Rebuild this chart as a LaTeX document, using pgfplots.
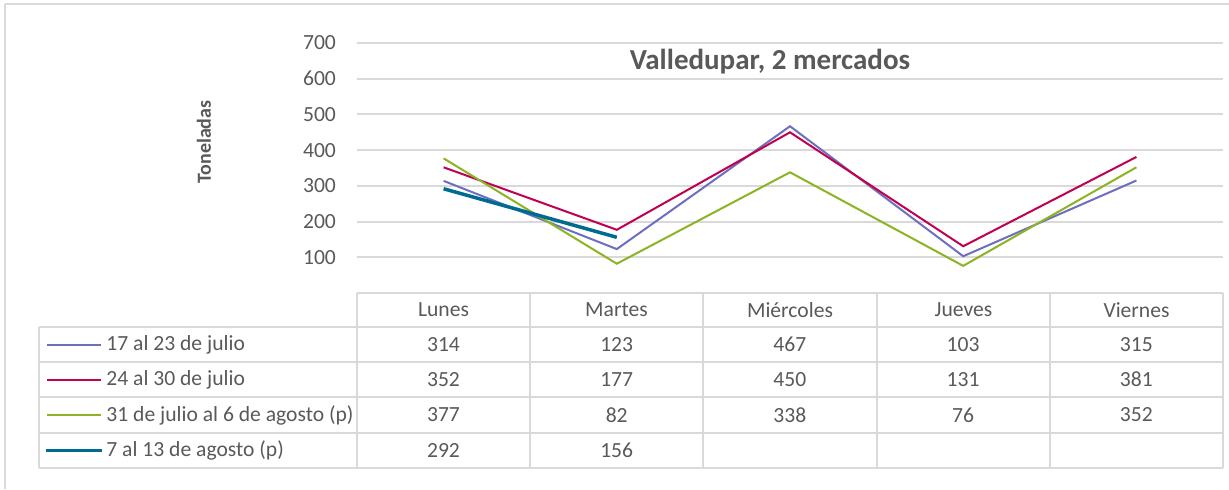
\documentclass[border=0pt]{standalone}
\usepackage{pgfplots}
\pgfplotsset{compat=1.18}
\usepackage{fontspec}
\setmainfont{Carlito}
\definecolor{sA}{HTML}{6E6EC0}
\definecolor{sB}{HTML}{C00050}
\definecolor{sC}{HTML}{8CB422}
\definecolor{sD}{HTML}{006B91}
\definecolor{txt}{HTML}{595959}
\definecolor{grd}{HTML}{D9D9D9}
\begin{document}
\begin{tikzpicture}
\path[use as bounding box] (0,0) rectangle (614.5pt,-244.5pt);
\begin{axis}[at={(178.5pt,-146.5pt)}, anchor=south west, scale only axis,
  width=433pt, height=125pt, xmin=-0.5, xmax=4.5, ymin=0, ymax=700,
  ytick={100,200,...,700}, xtick=\empty, axis line style={draw=none},
  major tick length=0pt, ymajorgrids, grid style={grd, line width=1pt},
  yticklabel style={font=\fontsize{10.8}{12}\selectfont, text=txt, xshift=-7pt},
  /pgf/number format/assume math mode=true, clip=false]
\addplot[sA, line width=1pt] coordinates {(0,314) (1,123) (2,467) (3,103) (4,315)};
\addplot[sB, line width=1pt] coordinates {(0,352) (1,177) (2,450) (3,131) (4,381)};
\addplot[sC, line width=1pt] coordinates {(0,377) (1,82) (2,338) (3,76) (4,352)};
\addplot[sD, line width=1.75pt] coordinates {(0,292) (1,156)};
\end{axis}
\begin{scope}[x=0.5pt,y=-0.5pt]
% frame
\draw[grd, line width=1pt] (5,4) -- (1229,4);
\draw[grd, line width=1pt] (5,4) -- (5,489);
% title
\node[font=\bfseries\fontsize{14.5}{17}\selectfont, text=txt] at (770,62) {Valledupar, 2 mercados};
\node[font=\bfseries\fontsize{10}{12}\selectfont, text=txt, rotate=90] at (204,142) {Toneladas};
% table lines
\begin{scope}[grd, line width=0.75pt]
\draw (357,293) -- (1223,293);
\foreach \yy in {327,362,397,433,468} \draw (39,\yy) -- (1223,\yy);
\draw (39,327) -- (39,468);
\foreach \xx in {357,530,703,877,1050,1223} \draw (\xx,293) -- (\xx,468);
\end{scope}
% header
\begin{scope}[every node/.style={font=\fontsize{10.8}{12}\selectfont, text=txt}]
\node at (443.5,310) {Lunes};
\node at (616.5,310) {Martes};
\node at (790,310) {Miércoles};
\node at (963.5,310) {Jueves};
\node at (1136.5,310) {Viernes};
% legend
\draw[sA, line width=1pt] (47,344.5) -- (101,344.5);
\draw[sB, line width=1pt] (47,379.5) -- (101,379.5);
\draw[sC, line width=1pt] (47,415) -- (101,415);
\draw[sD, line width=1.75pt] (46,450.5) -- (102,450.5);
\node[anchor=west, inner sep=1pt] at (104,344.5) {17 al 23 de julio};
\node[anchor=west, inner sep=1pt] at (104,379.5) {24 al 30 de julio};
\node[anchor=west, inner sep=1pt] at (104,415) {31 de julio al 6 de agosto (p)};
\node[anchor=west, inner sep=1pt] at (104,450.5) {7 al 13 de agosto (p)};
% values
\foreach \v [count=\i from 0] in {314,123,467,103,315} \node at (443.5+\i*173.2,344.5) {\v};
\foreach \v [count=\i from 0] in {352,177,450,131,381} \node at (443.5+\i*173.2,379.5) {\v};
\foreach \v [count=\i from 0] in {377,82,338,76,352} \node at (443.5+\i*173.2,415) {\v};
\foreach \v [count=\i from 0] in {292,156} \node at (443.5+\i*173.2,450.5) {\v};
\end{scope}
\end{scope}
\end{tikzpicture}
\end{document}
